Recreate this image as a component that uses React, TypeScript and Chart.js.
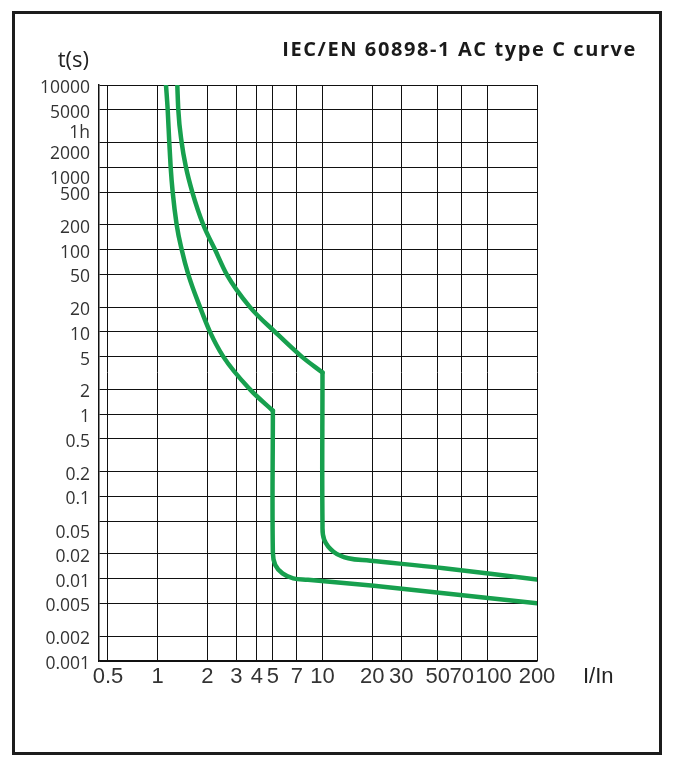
import React, { useEffect, useRef } from "react";
import Chart from "chart.js/auto";

// axis ticks (I/In and seconds)
const xTicks = [0.5, 1, 2, 3, 4, 5, 7, 10, 20, 30, 50, 70, 100, 200];
const xTickLabels = ["0.5", "1", "2", "3", "4", "5", "7", "10", "20", "30", "50", "70", "  100", "200"];

const yTicks = [10000, 5000, 3600, 2000, 1000, 500, 200, 100, 50, 20, 10, 5, 2, 1, 0.5, 0.2, 0.1, 0.05, 0.02, 0.01, 0.005, 0.002, 0.001];
const yTickLabels = ["10000", "5000", "1h", "2000", "1000", "500", "200", "100", "50", "20", "10", "5", "2", "1", "0.5", "0.2", "0.1", "0.05", "0.02", "0.01", "0.005", "0.002", "0.001"];
// labels that sit a little below their grid line in the original
const loweredLabels = [3600, 2000, 1000, 0.05];

// lower trip curve (thermal part, magnetic step at 5 In, then tail)
const lowerCurrent = [1.124, 1.151, 1.177, 1.2, 1.234, 1.305, 1.399, 1.534, 1.808, 2.078, 2.502, 3.632, 5, 5, 5.17, 5.72, 6.64, 8.16, 20.5, 54.5, 200];
const lowerTime = [10000, 5000, 2000, 1000, 500, 200, 100, 50, 20, 10, 5, 2, 1.1, 0.0206, 0.0147, 0.0116, 0.0101, 0.0097, 0.0082, 0.00666, 0.00503];

// upper trip curve (magnetic step at 10 In)
const upperCurrent = [1.316, 1.335, 1.399, 1.486, 1.623, 1.892, 2.228, 2.624, 3.632, 5.15, 7.48, 10, 10, 10.25, 11.66, 14.33, 19.5, 54.5, 200];
const upperTime = [10000, 5000, 2000, 1000, 500, 200, 100, 50, 20, 10, 5, 3.2, 0.045, 0.0296, 0.0213, 0.0177, 0.01656, 0.0134, 0.0098];

const GREEN = "#17a04e";
const INK = "#111";

const extraText = {
  id: "extraText",
  afterDraw(chart: Chart) {
    const { ctx, chartArea } = chart;
    ctx.save();
    ctx.textBaseline = "alphabetic";

    ctx.fillStyle = "#1a1a1a";
    ctx.font = "bold 20px 'Open Sans'";
    ctx.textAlign = "right";
    (ctx as any).letterSpacing = "1.6px";
    ctx.fillText("IEC/EN 60898-1 AC type C curve", 629, 47.5);
    (ctx as any).letterSpacing = "0px";

    ctx.fillStyle = "#222";
    ctx.font = "22px 'Open Sans'";
    ctx.textAlign = "right";
    ctx.fillText("t(s)", chartArea.left - 10, 59);

    ctx.font = "22px 'Liberation Sans'";
    ctx.textAlign = "left";
    ctx.fillText("I/In", chartArea.right + 46, chartArea.bottom + 22);
    ctx.restore();
  },
};

// split a curve where it turns vertical: smooth parts either side, sharp knee
const curveParts = (xs: number[], ys: number[]) => {
  const pts = xs.map((x, i) => ({ x, y: ys[i] }));
  const knee = xs.findIndex((x, i) => i < xs.length - 1 && x === xs[i + 1]);
  return [pts.slice(0, knee + 1), pts.slice(knee)];
};

const CurveChart = () => {
  const chartRef = useRef<HTMLCanvasElement>(null);
  const chartInstance = useRef<Chart>();

  useEffect(() => {
    if (chartInstance.current) {
      chartInstance.current.destroy();
    }
    const myChartRef = chartRef.current?.getContext("2d");
    if (!myChartRef) return;

    const line = (data: { x: number; y: number }[], i: number) => ({
      data,
      showLine: true,
      borderColor: GREEN,
      backgroundColor: GREEN,
      borderWidth: 4.5,
      borderJoinStyle: "round" as const,
      borderCapStyle: "round" as const,
      pointRadius: 0,
      tension: 0.4,
      // thermal part is a function of current, so monotone keeps it smooth
      cubicInterpolationMode: i % 2 === 0 ? ("monotone" as const) : ("default" as const),
    });

    const datasets = [
      ...curveParts(lowerCurrent, lowerTime),
      ...curveParts(upperCurrent, upperTime),
    ].map(line);

    chartInstance.current = new Chart(myChartRef, {
      type: "scatter",
      data: { datasets },
      plugins: [extraText],
      options: {
        animation: false,
        responsive: false,
        layout: { padding: { left: 20, top: 77, right: 130, bottom: 54 } },
        plugins: { legend: { display: false }, tooltip: { enabled: false } },
        scales: {
          x: {
            type: "logarithmic",
            min: 0.441,
            max: 200,
            afterBuildTicks: (scale: any) => {
              scale.ticks = xTicks.map((v) => ({ value: v }));
            },
            afterFit: (scale: any) => {
              scale.height = 40;
            },
            grid: { color: INK, lineWidth: 1, drawTicks: false },
            border: { display: true, color: INK, width: 1.5 },
            ticks: {
              autoSkip: false,
              maxRotation: 0,
              minRotation: 0,
              padding: 3,
              color: "#333",
              font: { family: "'Liberation Sans'", size: 22 },
              callback: (value: any) => xTickLabels[xTicks.indexOf(Number(value))],
            },
          },
          y: {
            type: "logarithmic",
            min: 0.001,
            max: 10000,
            afterBuildTicks: (scale: any) => {
              scale.ticks = [...yTicks].sort((a, b) => a - b).map((v) => ({ value: v }));
            },
            afterFit: (scale: any) => {
              scale.width = 71;
            },
            grid: {
              drawTicks: false,
              lineWidth: 1,
              color: (c: any) => (c.tick && c.tick.value === 3600 ? "rgba(0,0,0,0)" : INK),
            },
            border: { display: true, color: INK, width: 1.5 },
            ticks: {
              autoSkip: false,
              padding: 9,
              labelOffset: 3,
              color: "#333",
              font: { family: "'Open Sans'", size: 17.5, lineHeight: 1.0 },
              callback: (value: any) => {
                const v = Number(value);
                const label = yTickLabels[yTicks.indexOf(v)];
                return loweredLabels.includes(v) ? ["", label] : label;
              },
            },
          },
        },
      },
    });

    return () => {
      if (chartInstance.current) {
        chartInstance.current.destroy();
      }
    };
  }, []);

  return (
    <div style={{ position: "relative", width: 659, height: 747, background: "#fff" }}>
      <div
        style={{
          position: "absolute",
          left: 4,
          top: 3,
          width: 650,
          height: 744,
          boxSizing: "border-box",
          border: "3.5px solid #1c1c1c",
        }}
      />
      <canvas ref={chartRef} width={659} height={747} style={{ position: "absolute", left: 0, top: 0 }} />
    </div>
  );
};

export default function App() {
  return <CurveChart />;
}
